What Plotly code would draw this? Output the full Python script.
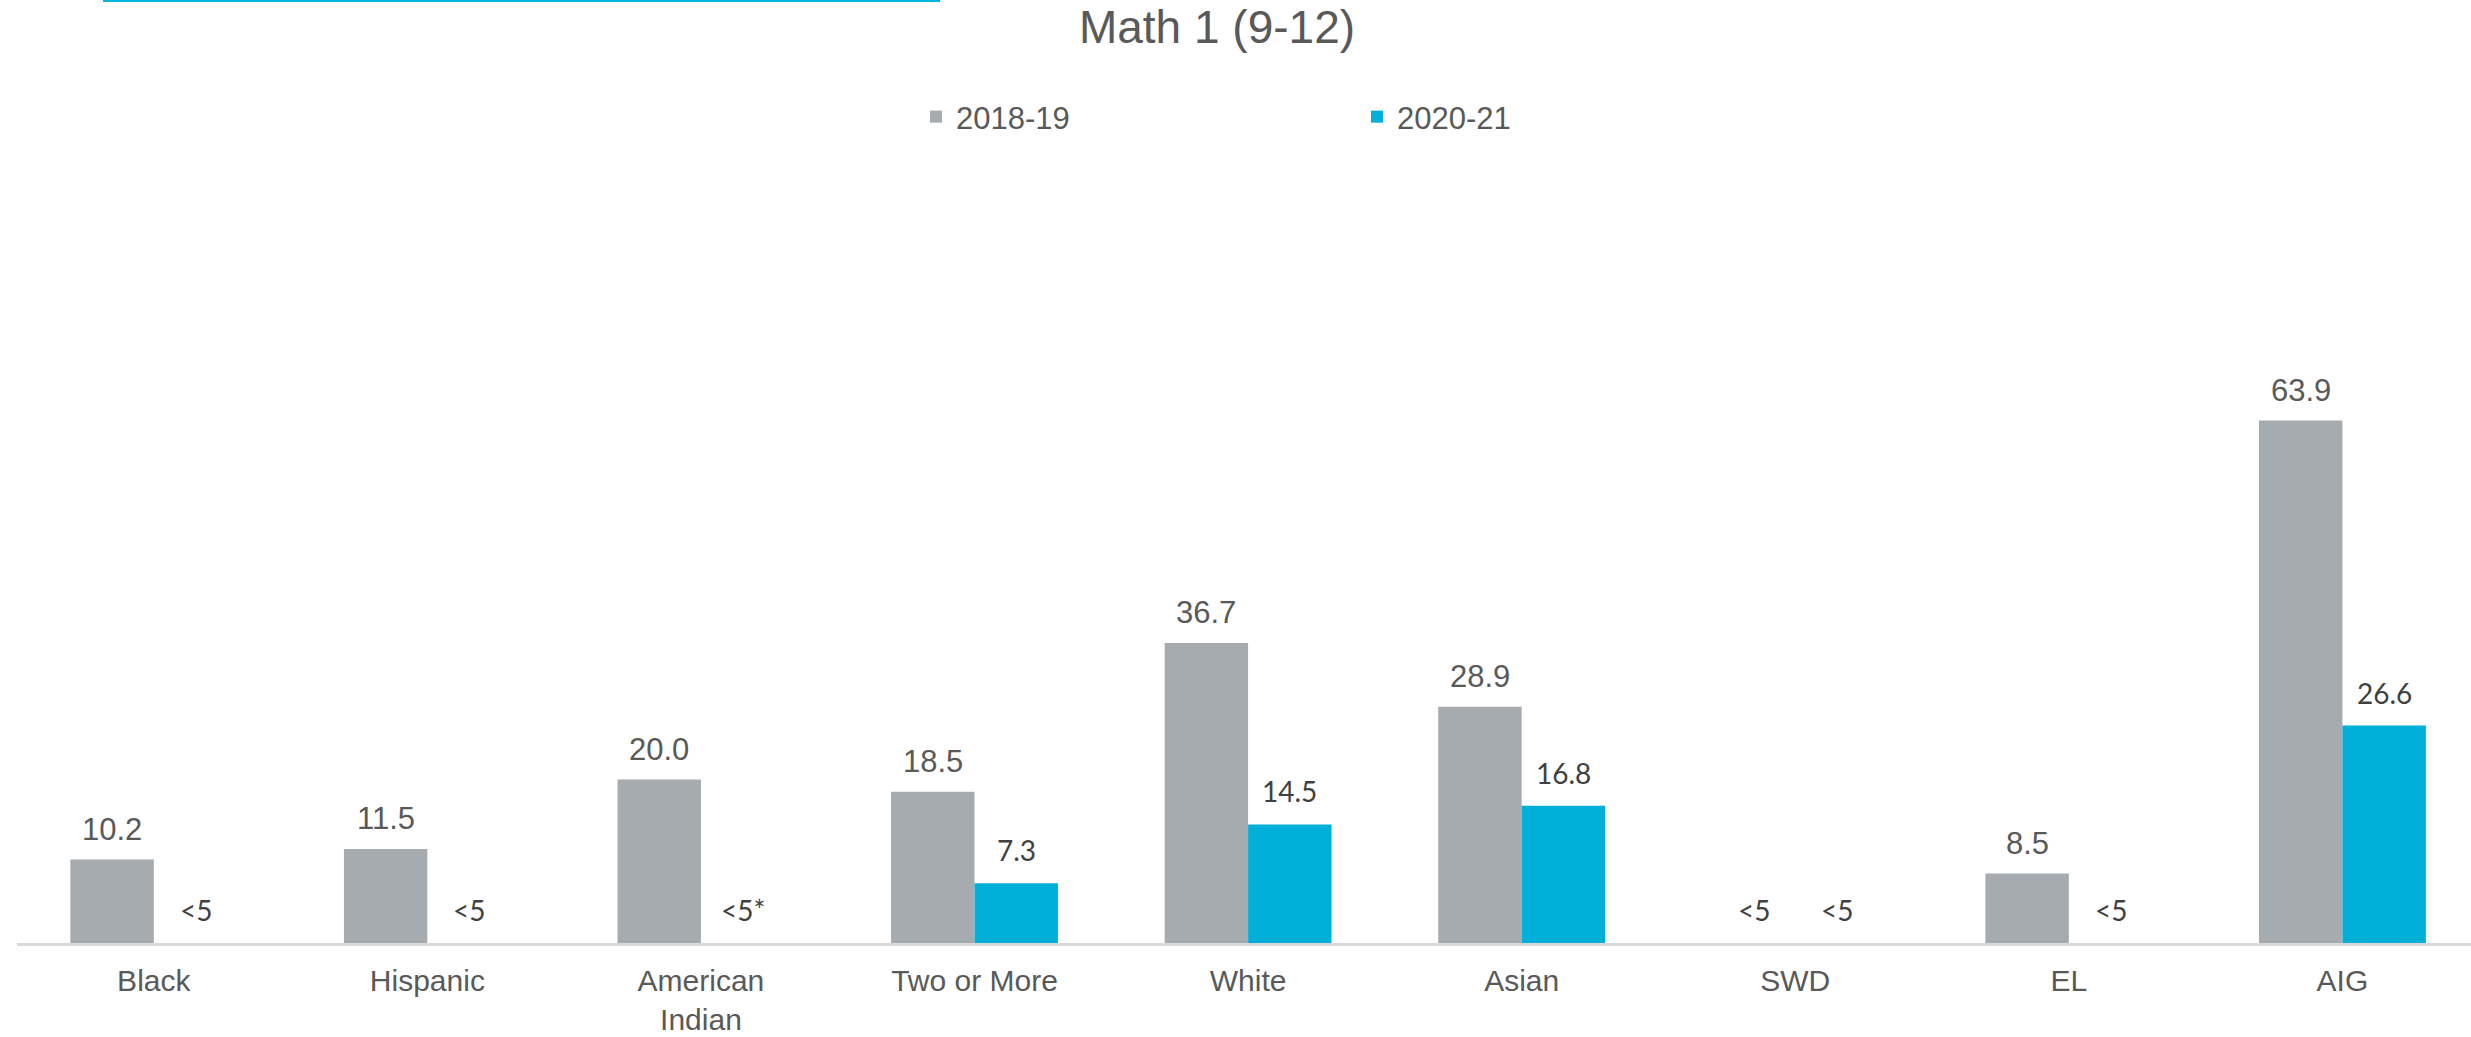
import plotly.graph_objects as go

categories = ["Black", "Hispanic", "American<br>Indian", "Two or More", "White",
              "Asian", "SWD", "EL", "AIG"]
series_names = ["2018-19", "2020-21"]
values_2018 = [10.2, 11.5, 20.0, 18.5, 36.7, 28.9, 0, 8.5, 63.9]
values_2020 = [0, 0, 0, 7.3, 14.5, 16.8, 0, 0, 26.6]
labels_2018 = ["10.2", "11.5", "20.0", "18.5", "36.7", "28.9", "<5", "8.5", "63.9"]
labels_2020 = ["<5", "<5", "<5*", "7.3", "14.5", "16.8", "<5", "<5", "26.6"]
title_text = "Math 1 (9-12)"

GRAY = "#A5ABAE"
CYAN = "#00B0D8"
TXT = "#595959"
DARK = "#404040"
ARIAL = "Liberation Sans, Arial, sans-serif"
CALI = "Lato, Open Sans, sans-serif"

W, H = 2471, 1037
L, R, T, B = 17, 0, 289, 94

fig = go.Figure()
fig.add_trace(go.Bar(name=series_names[0], x=categories, y=values_2018,
                     marker=dict(color=GRAY, line=dict(width=0))))
fig.add_trace(go.Bar(name=series_names[1], x=categories, y=values_2020,
                     marker=dict(color=CYAN, line=dict(width=0))))

BW = 83.5  # approx px width of a bar
annotations = []
for cat, v, lab in zip(categories, values_2018, labels_2018):
    special = lab.startswith("<")
    annotations.append(dict(
        x=cat, y=v, xref="x", yref="y", text=lab, showarrow=False,
        xshift=-BW / 2, yanchor="bottom", yshift=(14 if special else 11),
        font=dict(family=CALI if special else ARIAL, size=28 if special else 31,
                  color=DARK if special else TXT)))
for cat, v, lab in zip(categories, values_2020, labels_2020):
    annotations.append(dict(
        x=cat, y=v, xref="x", yref="y", text=lab, showarrow=False,
        xshift=BW / 2, yanchor="bottom", yshift=14,
        font=dict(family=CALI, size=28, color=DARK)))

fig.update_layout(
    width=W, height=H,
    margin=dict(l=L, r=R, t=T, b=B, pad=0),
    paper_bgcolor="white", plot_bgcolor="white",
    barmode="group", bargap=0.39, bargroupgap=0,
    title=dict(text=title_text, x=1217 / W, xanchor="center", xref="container",
               y=1 - 27 / H, yanchor="middle", yref="container",
               font=dict(family=ARIAL, size=46, color=TXT)),
    legend=dict(orientation="h", xref="container", yref="container",
                x=916 / W, xanchor="left", y=1 - 117 / H, yanchor="middle",
                entrywidth=396, itemwidth=30,
                font=dict(family=ARIAL, size=31, color=TXT),
                bgcolor="rgba(0,0,0,0)"),
    xaxis=dict(range=[-0.5, 8.47], showgrid=False, zeroline=False,
               showline=True, linecolor="#D9D9D9", linewidth=2.5,
               ticks="", ticklabelstandoff=9,
               tickfont=dict(family=ARIAL, size=30, color=TXT)),
    yaxis=dict(range=[0, 80], showgrid=False, zeroline=False, showline=False,
               showticklabels=False, ticks=""),
    annotations=annotations,
    shapes=[dict(type="line", xref="paper", yref="paper",
                 x0=(103 - L) / (W - L - R), x1=(940 - L) / (W - L - R),
                 y0=(H - B - 1) / (H - T - B), y1=(H - B - 1) / (H - T - B),
                 line=dict(color="#00B6E0", width=2))],
    showlegend=True,
)

fig.write_html("out.html",
               config={"displayModeBar": False},
               post_script="document.body.style.margin='0';"
                           "document.body.style.overflow='hidden';")
